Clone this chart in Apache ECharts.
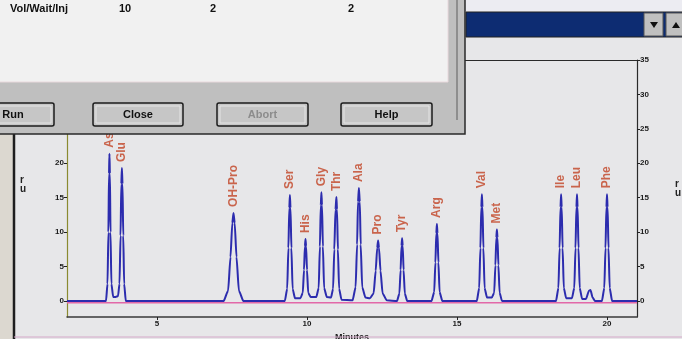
<!DOCTYPE html>
<html>
<head>
<meta charset="utf-8">
<script src="https://cdn.jsdelivr.net/npm/echarts@6/dist/echarts.min.js"></script>
<style>
  html, body { margin: 0; padding: 0; background: #e7e7e9; }
  #chart { width: 682px; height: 339px; }
</style>
</head>
<body>
<div id="chart"></div>
<script>
// peak labels (minutes, height of the peak top)
const peakNames = ['Asp', 'Glu', 'OH-Pro', 'Ser', 'His', 'Gly', 'Thr', 'Ala', 'Pro', 'Tyr', 'Arg', 'Val', 'Met', 'Ile', 'Leu', 'Phe'];
const peakTimes = [3.415, 3.83, 7.55, 9.43, 9.95, 10.48, 10.98, 11.73, 12.37, 13.17, 14.33, 15.83, 16.33, 18.47, 19.0, 20.0];
const peakHeights = [21.4, 19.3, 12.8, 15.4, 9.0, 15.8, 15.1, 16.4, 8.8, 9.1, 11.2, 15.5, 10.4, 15.5, 15.5, 15.5];

// detector trace [minutes, signal]
const trace = [
  [2, 0], [3.30, 0],
  [3.35, 2.5], [3.38, 10], [3.40, 18.5], [3.415, 21.4], [3.43, 18.5], [3.45, 10], [3.48, 2.5], [3.54, 0.6],
  [3.62, 0.6], [3.70, 0.7],
  [3.75, 2.5], [3.785, 9.5], [3.81, 17], [3.83, 19.3], [3.85, 17], [3.875, 9.5], [3.905, 2.5], [3.96, 0],
  [7.22, 0], [7.37, 1.5], [7.45, 6.4], [7.51, 11.3], [7.55, 12.8], [7.59, 11.3], [7.65, 6.4], [7.73, 1.5], [7.88, 0],
  [9.26, 0], [9.34, 1.8], [9.38, 7.7], [9.41, 13.5], [9.43, 15.4], [9.45, 13.5], [9.48, 7.7], [9.52, 1.8], [9.60, 0.4],
  [9.78, 0.4], [9.86, 1.2], [9.90, 4.5], [9.93, 7.9], [9.95, 9.0], [9.97, 7.9], [10.0, 4.5], [10.04, 1.2], [10.12, 0.6],
  [10.31, 0.6], [10.39, 1.9], [10.43, 7.9], [10.46, 13.9], [10.48, 15.8], [10.50, 13.9], [10.53, 7.9], [10.57, 1.9], [10.66, 0.6],
  [10.80, 0.5], [10.87, 1.8], [10.91, 7.5], [10.95, 13.3], [10.98, 15.1], [11.00, 13.3], [11.03, 7.5], [11.07, 1.8], [11.15, 0.2],
  [11.52, 0.1], [11.62, 2], [11.67, 8.2], [11.70, 14.4], [11.73, 16.4], [11.76, 14.4], [11.79, 8.2], [11.84, 2], [11.95, 0.5],
  [12.10, 0.4], [12.22, 1.1], [12.29, 4.4], [12.34, 7.7], [12.37, 8.8], [12.40, 7.7], [12.45, 4.4], [12.52, 1.1], [12.66, 0.1],
  [13.0, 0], [13.08, 1.1], [13.12, 4.5], [13.15, 8], [13.17, 9.1], [13.19, 8], [13.22, 4.5], [13.26, 1.1], [13.34, 0],
  [14.15, 0], [14.24, 1.3], [14.28, 5.6], [14.31, 9.8], [14.33, 11.2], [14.35, 9.8], [14.38, 5.6], [14.42, 1.3], [14.51, 0],
  [15.66, 0], [15.74, 1.9], [15.78, 7.7], [15.81, 13.6], [15.83, 15.5], [15.85, 13.6], [15.88, 7.7], [15.92, 1.9], [16.0, 0.5],
  [16.16, 0.5], [16.24, 1.2], [16.28, 5.2], [16.31, 9.2], [16.33, 10.4], [16.35, 9.2], [16.38, 5.2], [16.42, 1.2], [16.50, 0],
  [18.30, 0], [18.38, 1.9], [18.42, 7.7], [18.45, 13.6], [18.47, 15.5], [18.49, 13.6], [18.52, 7.7], [18.56, 1.9], [18.64, 0.4],
  [18.83, 0.4], [18.91, 1.9], [18.95, 7.7], [18.98, 13.6], [19.0, 15.5], [19.02, 13.6], [19.05, 7.7], [19.09, 1.9], [19.17, 0.3],
  [19.30, 0.3], [19.40, 1.5], [19.45, 1.6], [19.52, 0.5], [19.6, 0],
  [19.83, 0], [19.91, 1.9], [19.95, 7.7], [19.98, 13.6], [20.0, 15.5], [20.02, 13.6], [20.05, 7.7], [20.09, 1.9], [20.17, 0],
  [21, 0]
];

const xTicks = [5, 10, 15, 20];
const yTicks = [0, 5, 10, 15, 20, 25, 30, 35];

// dialog rows / buttons
const dialogRow = ['Vol/Wait/Inj', '10', '2', '2'];
const buttonNames = ['Run', 'Close', 'Abort', 'Help'];

const chart = echarts.init(document.getElementById('chart'));

const tickFont = { fontSize: 8, fontWeight: 'bold', color: '#1a1a1a', fontFamily: 'Liberation Sans' };

function yAxisOf(position, lineColor) {
  return {
    type: 'value',
    position: position,
    min: -2.32,
    max: 35,
    axisLine: { show: true, onZero: false, lineStyle: { color: lineColor, width: 1.2 } },
    axisTick: { show: true, length: 3, customValues: yTicks, lineStyle: { color: '#222' } },
    axisLabel: { show: true, margin: 3, customValues: yTicks, ...tickFont },
    splitLine: { show: false }
  };
}

// everything of the dialog sits on its own layer above the plot
const onTop = { zlevel: 5, z: 100 };
const btnX = [-4, 93, 217, 341];
const btnW = [58, 90, 91, 91];
const dialogEls = [
  { type: 'rect', ...onTop, shape: { x: -2, y: -2, width: 467, height: 136 }, style: { fill: '#bfbfbf', stroke: '#2a2a2a', lineWidth: 1.5 } },
  { type: 'rect', ...onTop, shape: { x: -2, y: -2, width: 450, height: 84 }, style: { fill: '#f1f1f1', stroke: '#e8d8dc', lineWidth: 1 } },
  { type: 'line', ...onTop, shape: { x1: 457, y1: 0, x2: 457, y2: 120 }, style: { stroke: '#8e8e8e', lineWidth: 2 } },
  { type: 'text', ...onTop, x: 10, y: 3, style: { text: dialogRow[0], font: 'bold 11px Liberation Sans', fill: '#111' } },
  { type: 'text', ...onTop, x: 119, y: 3, style: { text: dialogRow[1], font: 'bold 11px Liberation Sans', fill: '#111' } },
  { type: 'text', ...onTop, x: 210, y: 3, style: { text: dialogRow[2], font: 'bold 11px Liberation Sans', fill: '#111' } },
  { type: 'text', ...onTop, x: 348, y: 3, style: { text: dialogRow[3], font: 'bold 11px Liberation Sans', fill: '#111' } }
];
buttonNames.forEach((name, i) => {
  dialogEls.push({ type: 'rect', ...onTop, shape: { x: btnX[i], y: 103, width: btnW[i], height: 23, r: 2 }, style: { fill: '#c6c6c6', stroke: '#1c1c1c', lineWidth: 1.5 } });
  dialogEls.push({ type: 'rect', ...onTop, shape: { x: btnX[i] + 3, y: 106, width: btnW[i] - 6, height: 17 }, style: { fill: 'none', stroke: '#e4e4e4', lineWidth: 1 } });
  dialogEls.push({
    type: 'text', ...onTop, x: btnX[i] + btnW[i] / 2 + (i === 0 ? -12 : 0), y: 114.5,
    style: { text: name, font: 'bold 11px Liberation Sans', fill: i === 2 ? '#8c8c8c' : '#111', align: 'center', verticalAlign: 'middle' }
  });
});

const option = {
  backgroundColor: '#e7e7e9',
  animation: false,
  grid: { left: 67, right: 45, top: 60, bottom: 22, containLabel: false, outerBoundsMode: 'none' },
  xAxis: [
    {
      type: 'value',
      min: 2,
      max: 21,
      position: 'bottom',
      name: 'Minutes',
      nameLocation: 'middle',
      nameGap: 11,
      nameTextStyle: { fontSize: 9, fontWeight: 'bold', color: '#1a1a1a', fontFamily: 'Liberation Sans' },
      axisLine: { show: true, onZero: false, lineStyle: { color: '#3a3a3a', width: 1.5 } },
      axisTick: { show: true, length: 3, customValues: xTicks, lineStyle: { color: '#222' } },
      axisLabel: { show: true, margin: 3, customValues: xTicks, ...tickFont },
      splitLine: { show: false }
    },
    {
      type: 'value',
      min: 2,
      max: 21,
      position: 'top',
      axisLine: { show: true, onZero: false, lineStyle: { color: '#2a2a2a', width: 1.2 } },
      axisTick: { show: false },
      axisLabel: { show: false },
      splitLine: { show: false }
    }
  ],
  yAxis: [yAxisOf('left', '#8a8a30'), yAxisOf('right', '#2a2a2a')],
  series: [
    {
      type: 'line',
      data: [[2, -0.25], [21, -0.25]],
      showSymbol: false,
      lineStyle: { color: '#e268a8', width: 1.6 },
      silent: true,
      z: 1
    },
    {
      type: 'line',
      data: trace,
      showSymbol: false,
      smooth: 0.2,
      smoothMonotone: 'x',
      lineStyle: { color: '#2c2cae', width: 2 },
      silent: true,
      z: 2
    },
    {
      type: 'scatter',
      data: peakTimes.map((t, i) => ({ value: [t, peakHeights[i]], name: peakNames[i] })),
      symbolSize: 0,
      label: {
        show: true,
        position: 'top',
        distance: 6,
        rotate: 90,
        align: 'left',
        verticalAlign: 'middle',
        formatter: p => p.name,
        fontSize: 12,
        fontWeight: 'bold',
        fontFamily: 'Liberation Sans',
        color: '#c24424'
      },
      silent: true,
      z: 3
    }
  ],
  graphic: {
    elements: [
      // window frame at left
      { type: 'rect', ...onTop, shape: { x: 0, y: 120, width: 13, height: 219 }, style: { fill: '#dcd8d0' } },
      { type: 'line', ...onTop, shape: { x1: 14, y1: 120, x2: 14, y2: 339 }, style: { stroke: '#1e1e1e', lineWidth: 2.5 } },
      { type: 'line', ...onTop, shape: { x1: 14, y1: 337, x2: 682, y2: 337 }, style: { stroke: '#d4a8c8', lineWidth: 1 } },
      // axis unit marks
      { type: 'text', ...onTop, x: 20, y: 176, style: { text: 'r\nu', font: 'bold 10px Liberation Sans', lineHeight: 9, fill: '#222' } },
      { type: 'text', ...onTop, x: 675, y: 180, style: { text: 'r\nu', font: 'bold 10px Liberation Sans', lineHeight: 9, fill: '#222' } },
      // window title bar
      { type: 'rect', ...onTop, shape: { x: 462, y: 0, width: 220, height: 12 }, style: { fill: '#ececf2' } },
      { type: 'rect', ...onTop, shape: { x: 466, y: 12, width: 216, height: 25 }, style: { fill: '#0d2c72', stroke: '#222', lineWidth: 1 } },
      { type: 'rect', ...onTop, shape: { x: 644, y: 13, width: 19, height: 23 }, style: { fill: '#c0c0c0', stroke: '#555', lineWidth: 1 } },
      { type: 'rect', ...onTop, shape: { x: 666, y: 13, width: 19, height: 23 }, style: { fill: '#c0c0c0', stroke: '#555', lineWidth: 1 } },
      { type: 'polygon', ...onTop, shape: { points: [[650, 22], [658, 22], [654, 28]] }, style: { fill: '#111' } },
      { type: 'polygon', ...onTop, shape: { points: [[672, 28], [680, 28], [676, 22]] }, style: { fill: '#111' } }
    ].concat(dialogEls)
  }
};

chart.setOption(option);
</script>
</body>
</html>
